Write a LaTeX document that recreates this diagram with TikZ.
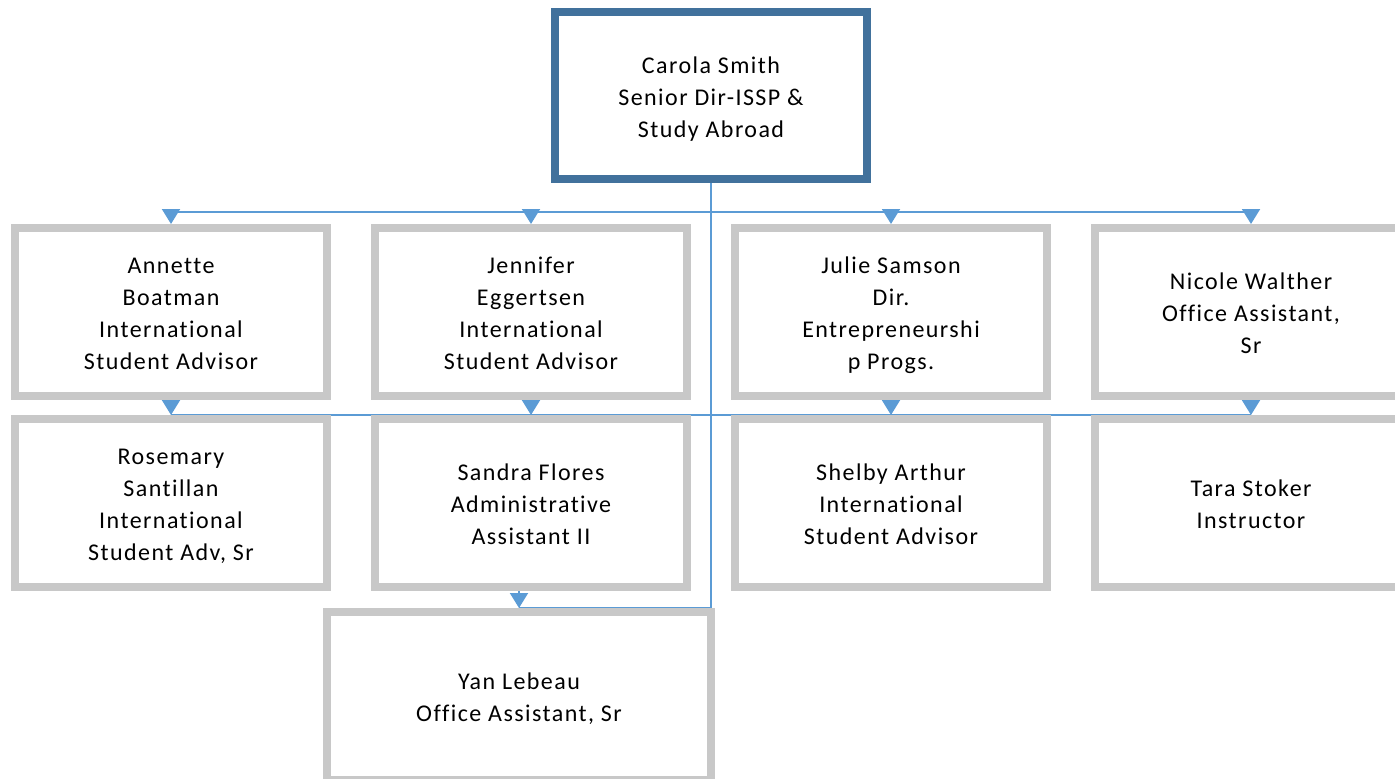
\documentclass[tikz,border=0pt]{standalone}
\usepackage{fontspec}
\setmainfont{Carlito}[Ligatures={NoCommon}, LetterSpace=6]
\usetikzlibrary{arrows.meta,backgrounds}
\definecolor{topblue}{RGB}{65,113,156}
\definecolor{linkblue}{RGB}{91,155,213}
\definecolor{boxgray}{RGB}{200,200,200}
\newcommand{\firstline}{\rule{0pt}{24pt}}
\newcommand{\lastline}{\rule[-5pt]{0pt}{5pt}}
\begin{document}
\begin{tikzpicture}[x=1pt,y=-1pt,
  box/.style={draw=boxgray, line width=8pt, fill=white, minimum width=312pt,
    minimum height=168pt, inner sep=0pt, outer sep=4pt, align=center,
    font=\fontsize{24}{32}\selectfont},
  headbox/.style={box, draw=topblue, minimum height=167pt},
  wide/.style={minimum width=384pt},
  link/.style={draw=linkblue, line width=2pt},
  tip/.style={link, -{Triangle[length=15pt,width=18pt]}}]
\useasboundingbox (0,0) rectangle (1395,779);
% nodes
\node[headbox] (carola) at (711,95.5) {\firstline Carola Smith\\Senior Dir-ISSP \&\\Study Abroad\lastline};
\node[box] (annette) at (171,312) {\firstline Annette\\Boatman\\International\\Student Advisor\lastline};
\node[box] (jennifer) at (531,312) {\firstline Jennifer\\Eggertsen\\International\\Student Advisor\lastline};
\node[box] (julie) at (891,312) {\firstline Julie Samson\\Dir.\\Entrepreneurshi\\p Progs.\lastline};
\node[box] (nicole) at (1251,312) {\firstline Nicole Walther\\Office Assistant,\\Sr\lastline};
\node[box] (rosemary) at (171,503) {\firstline Rosemary\\Santillan\\International\\Student Adv, Sr\lastline};
\node[box] (sandra) at (531,503) {\firstline Sandra Flores\\Administrative\\Assistant II\lastline};
\node[box] (shelby) at (891,503) {\firstline Shelby Arthur\\International\\Student Advisor\lastline};
\node[box] (tara) at (1251,503) {\firstline Tara Stoker\\Instructor\lastline};
\node[box, wide] (yan) at (519,696) {\firstline Yan Lebeau\\Office Assistant, Sr\lastline};
\coordinate (b1) at (711,212);
\coordinate (b2) at (711,415);
% connectors
\begin{scope}[on background layer]
\draw[link] (carola.south) |- (yan.north);
\draw[link] (b1 -| annette.north) -- (b1 -| nicole.north);
\draw[link] (b2 -| rosemary.north) -- (b2 -| tara.north);
\foreach \n in {annette,jennifer,julie,nicole}
  \draw[tip] (b1 -| \n.north) -- (\n.north);
\draw[tip] (annette.south) -- (rosemary.north);
\draw[tip] (jennifer.south) -- (sandra.north);
\draw[tip] (julie.south) -- (shelby.north);
\draw[tip] (nicole.south) -- (tara.north);
\draw[tip] (yan.north |- sandra.south) -- (yan.north);
\end{scope}
\end{tikzpicture}
\end{document}
